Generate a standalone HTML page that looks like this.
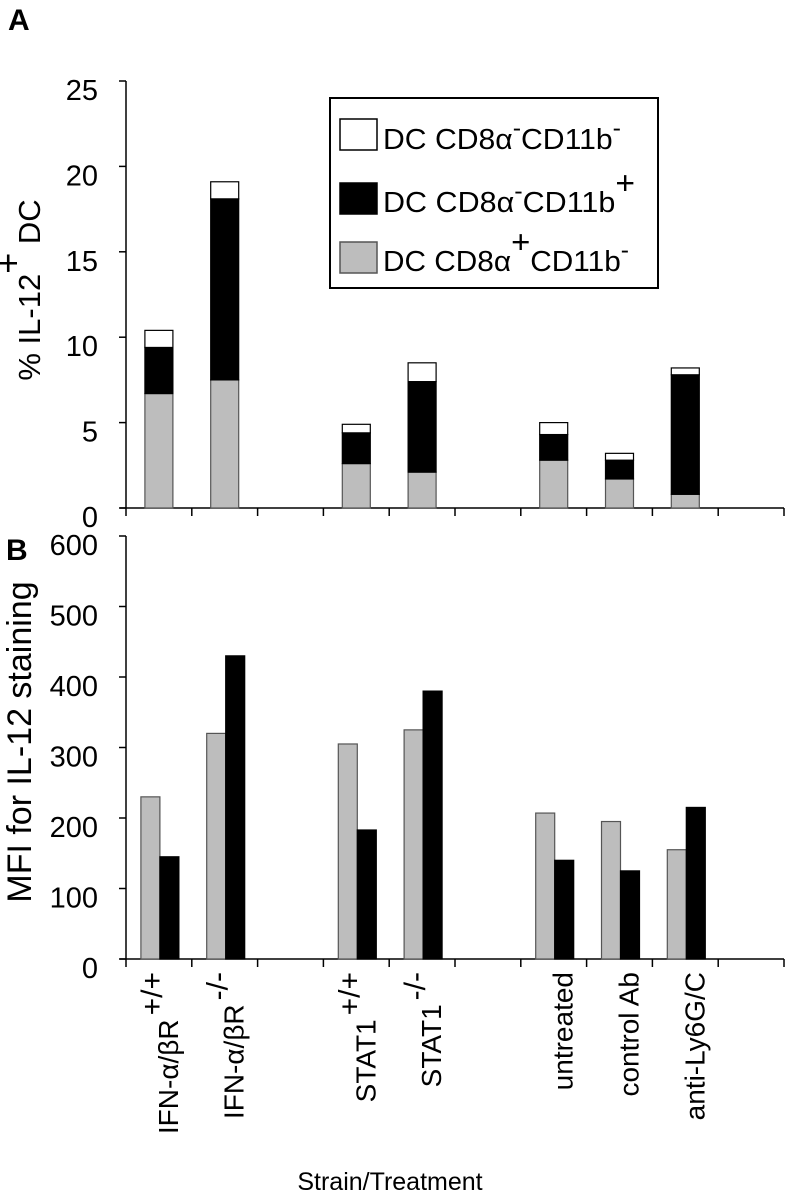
<!DOCTYPE html>
<html><head><meta charset="utf-8"><style>
html,body{margin:0;padding:0;background:#fff;}
svg{display:block;font-family:"Liberation Sans",sans-serif;}
</style></head><body>
<svg id="fig" width="789" height="1199" viewBox="0 0 789 1199" xmlns="http://www.w3.org/2000/svg">
<text x="8" y="30" font-size="30" font-weight="bold">A</text>
<text x="6" y="560" font-size="30" font-weight="bold">B</text>
<g id="chartA"></g>
<g id="chartB"></g>
<g id="legend">
  <rect x="330" y="98" width="328" height="190" fill="#fff" stroke="#000" stroke-width="2"/>
  <rect x="340" y="119" width="37" height="31" fill="#fff" stroke="#000" stroke-width="1.5"/>
  <text x="383" y="149" font-size="29" textLength="238" lengthAdjust="spacingAndGlyphs">DC CD8α<tspan baseline-shift="super" font-size="24">-</tspan>CD11b<tspan baseline-shift="super" font-size="24">-</tspan></text>
  <rect x="340" y="183" width="37" height="31" fill="#000" stroke="#000" stroke-width="1.5"/>
  <text x="383" y="212" font-size="29" textLength="252" lengthAdjust="spacingAndGlyphs">DC CD8α<tspan baseline-shift="super" font-size="24">-</tspan>CD11b<tspan baseline-shift="super" font-size="32">+</tspan></text>
  <rect x="340" y="242" width="37" height="31" fill="#bdbdbd" stroke="#555" stroke-width="1.5"/>
  <text x="383" y="271" font-size="29" textLength="246" lengthAdjust="spacingAndGlyphs">DC CD8α<tspan baseline-shift="super" font-size="32">+</tspan>CD11b<tspan baseline-shift="super" font-size="24">-</tspan></text>
</g>
<text transform="translate(40,290) rotate(-90)" text-anchor="middle" font-size="31">% IL-12<tspan baseline-shift="super" font-size="36">+</tspan> DC</text>
<text transform="translate(31,742) rotate(-90)" text-anchor="middle" font-size="34">MFI for IL-12 staining</text>
<text x="390" y="1190" text-anchor="middle" font-size="25">Strain/Treatment</text>
<g id="xlabels"></g>
</svg>
<script>
const categories = ["IFN-α/βR +/+","IFN-α/βR -/-","","STAT1 +/+","STAT1 -/-","","untreated","control Ab","anti-Ly6G/C",""];
const catMain = ["IFN-α/βR","IFN-α/βR","","STAT1","STAT1","","untreated","control Ab","anti-Ly6G/C",""];
const catSup = ["+/+","-/-","","+/+","-/-","","","","",""];
const aCD8 = [6.7,7.5,0,2.6,2.1,0,2.8,1.7,0.8,0];
const aCD11b = [2.7,10.6,0,1.8,5.3,0,1.5,1.1,7.0,0];
const aDN = [1.0,1.0,0,0.5,1.1,0,0.7,0.4,0.4,0];
const bCD8 = [230,320,0,305,325,0,207,195,155,0];
const bCD11b = [145,430,0,183,380,0,140,125,215,0];
const aTicks = [0,5,10,15,20,25];
const bTicks = [0,100,200,300,400,500,600];

const NS="http://www.w3.org/2000/svg";
const X0=126, X1=784, slotW=(X1-X0)/categories.length;
const slotX = i => X0 + i*slotW;
const yA = v => 508 - v*(508-81)/25;
const yB = v => 959 - v*(959-536)/600;
function mk(tag, attrs, parent){const e=document.createElementNS(NS,tag);for(const k in attrs)e.setAttribute(k,attrs[k]);parent.appendChild(e);return e;}

function axes(g, yf, ticks, y0, prefix){
  const ax=mk('line',{x1:X0,y1:yf(ticks[ticks.length-1]),x2:X0,y2:y0,stroke:'#000','stroke-width':1.5},g);
  
  
  const xa=mk('line',{x1:X0-6,y1:y0,x2:X1,y2:y0,stroke:'#000','stroke-width':1.5},g);
  
  
  ticks.forEach(t=>{
    const tl=mk('line',{x1:X0-7,y1:yf(t),x2:X0,y2:yf(t),stroke:'#000','stroke-width':1.5},g);
    
    
    const tx=mk('text',{x:X0-28,y:yf(t)+19,'text-anchor':'end','font-size':29},g);
    
    
    tx.textContent=t;
  });
  for(let i=0;i<=categories.length;i++){
    const tk=mk('line',{x1:slotX(i),y1:y0,x2:slotX(i),y2:y0+8,stroke:'#000','stroke-width':1.5},g);
    
    
  }
}
const gA=document.getElementById('chartA');
axes(gA,yA,aTicks,508,'a');
categories.forEach((c,i)=>{
  let base=0;
  const cx=slotX(i)+slotW/2, w=28;
  [[aCD8,'#bdbdbd','#555','cd8'],[aCD11b,'#000','#000','cd11b'],[aDN,'#fff','#000','dn']].forEach(([arr,fill,st,nm])=>{
    const v=arr[i]; if(!v) return;
    const r=mk('rect',{x:cx-w/2,y:yA(base+v),width:w,height:yA(base)-yA(base+v),fill:fill,stroke:st,'stroke-width':1.2},gA);
    
    
    base+=v;
  });
});
const gB=document.getElementById('chartB');
axes(gB,yB,bTicks,959,'b');
categories.forEach((c,i)=>{
  const cx=slotX(i)+slotW/2+1, w=19;
  if(bCD8[i]){
    const r=mk('rect',{x:cx-w,y:yB(bCD8[i]),width:w,height:959-yB(bCD8[i]),fill:'#bdbdbd',stroke:'#555','stroke-width':1.2},gB);
    
    
  }
  if(bCD11b[i]){
    const r=mk('rect',{x:cx,y:yB(bCD11b[i]),width:w,height:959-yB(bCD11b[i]),fill:'#000',stroke:'#000','stroke-width':1.2},gB);
    
    
  }
});
const gL=document.getElementById('xlabels');
catMain.forEach((m,i)=>{
  if(!m) return;
  const x=slotX(i)+slotW/2+19, y=972;
  const t=mk('text',{transform:'translate('+x+','+y+') rotate(-90)','text-anchor':'end','font-size':28},gL);
  
  
  t.appendChild(document.createTextNode(m));
  if(catSup[i]){
    const s=document.createElementNS(NS,'tspan');
    s.setAttribute('baseline-shift','super');
    s.setAttribute('font-size','30');
    s.setAttribute('dx','4');
    s.textContent=catSup[i];
    t.appendChild(s);
  }
});
</script>
</body></html>
